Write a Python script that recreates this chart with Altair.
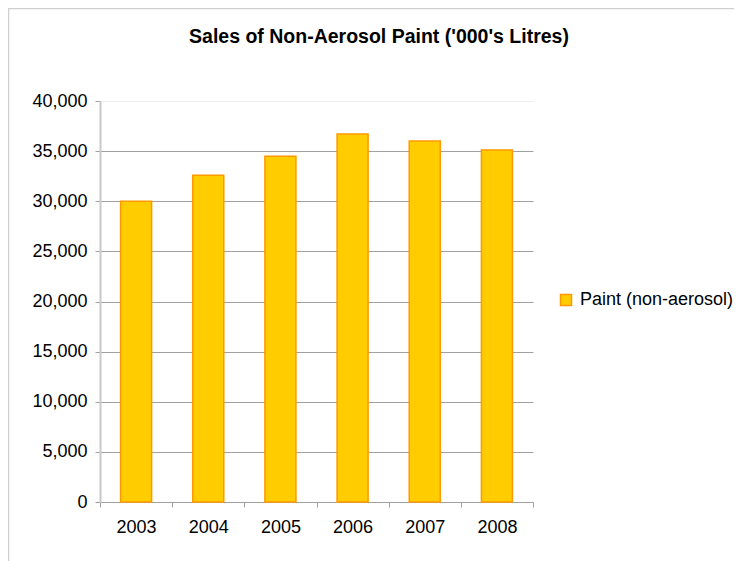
import altair as alt
import pandas as pd

years = ["2003", "2004", "2005", "2006", "2007", "2008"]
sales = [30000, 32600, 34500, 36700, 36000, 35100]
series_name = "Paint (non-aerosol)"
y_ticks = [0, 5000, 10000, 15000, 20000, 25000, 30000, 35000, 40000]
title_text = "Sales of Non-Aerosol Paint ('000's Litres)"

df = pd.DataFrame({"Year": years, "Sales": sales, "Series": [series_name] * len(years)})

W, H = 433, 401
PL, PT = 92, 93
TOTAL_W, TOTAL_H = 726, 553
FONT = "Liberation Sans"

bars = alt.Chart(df).mark_bar(
    width=alt.RelativeBandSize(0.43), stroke="#FF9900", strokeWidth=1.5
).encode(
    x=alt.X(
        "Year:N",
        scale=alt.Scale(paddingInner=0, paddingOuter=0),
        axis=alt.Axis(
            title=None, labelAngle=0, tickBand="extent", ticks=True, tickSize=5,
            tickColor="#A0A0A0", domainColor="#A0A0A0", domainWidth=1,
            labelFontSize=18, labelPadding=11, labelFont=FONT, labelColor="#000000",
            grid=False,
        ),
    ),
    y=alt.Y(
        "Sales:Q",
        scale=alt.Scale(domain=[0, 40000], nice=False),
        axis=alt.Axis(
            title=None, values=y_ticks, format=",d", tickSize=5,
            tickColor="#A0A0A0", domainColor="#C8C8C8", domainWidth=2,
            labelFontSize=18, labelPadding=8, labelFont=FONT, labelColor="#000000",
            grid=True,
            gridColor={"condition": {"test": "datum.value === 40000", "value": "#EEEEEE"}, "value": "#A0A0A0"},
            gridWidth=1,
        ),
    ),
    color=alt.Color(
        "Series:N",
        scale=alt.Scale(domain=[series_name], range=["#FFCC00"]),
        legend=alt.Legend(
            title=None, orient="none", legendX=457, legendY=190,
            symbolType="square", symbolSize=121, symbolStrokeColor="#FF9900",
            symbolStrokeWidth=1.5, symbolFillColor="#FFCC00",
            labelFontSize=18, labelFont=FONT, labelColor="#000000", labelOffset=5,
        ),
    ),
)

border_df = pd.DataFrame({"k": [0]})
left_border = alt.Chart(border_df).mark_rule(color="#D0D0D0", strokeWidth=1.5).encode(
    x=alt.value(-91.5), y=alt.value(-92.5), y2=alt.value(TOTAL_H - PT)
)
top_border = alt.Chart(border_df).mark_rule(color="#D0D0D0", strokeWidth=1.5).encode(
    x=alt.value(-92), x2=alt.value(TOTAL_W - PL), y=alt.value(-92.5)
)
title_mark = alt.Chart(border_df).mark_text(
    text=title_text, font=FONT, fontSize=19.5, fontWeight="bold", color="#000000",
    align="center", baseline="middle",
).encode(x=alt.value(279), y=alt.value(-64))

chart = alt.layer(bars, left_border, top_border, title_mark).properties(
    width=W, height=H,
    autosize=alt.AutoSizeParams(type="none"),
    padding={"left": PL, "top": PT, "right": TOTAL_W - PL - W, "bottom": TOTAL_H - PT - H},
).configure_view(stroke=None)

chart.save("out.html", embed_options={"renderer": "svg", "actions": False})
